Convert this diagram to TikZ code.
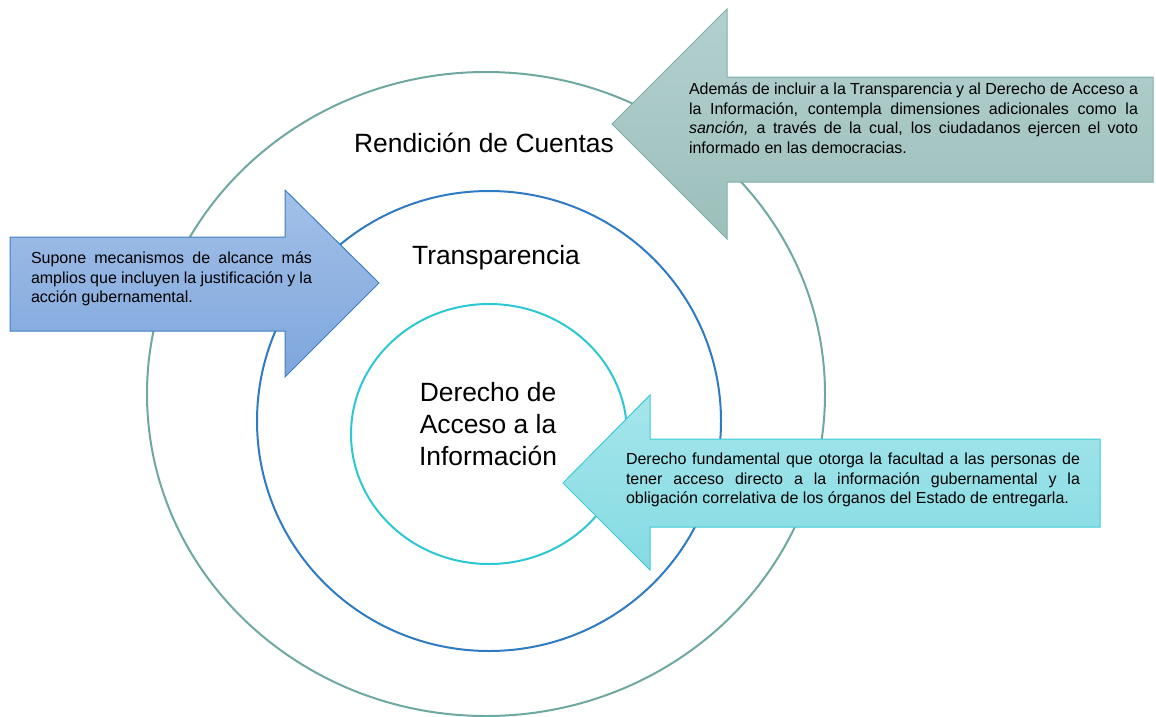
\documentclass[tikz,border=0pt]{standalone}
\usepackage{fontspec}
\setmainfont{Liberation Sans}
\hyphenpenalty=10000
\exhyphenpenalty=10000
\definecolor{outerc}{HTML}{6FA8A0}
\definecolor{midc}{HTML}{2E7BC4}
\definecolor{innerc}{HTML}{2BC8D3}
\definecolor{taTop}{HTML}{B3D0D0}
\definecolor{taBot}{HTML}{9CBFBA}
\definecolor{taBorder}{HTML}{7FAFA8}
\definecolor{laTop}{HTML}{A3C0E8}
\definecolor{laBot}{HTML}{7EA6DC}
\definecolor{laBorder}{HTML}{3E7FC4}
\definecolor{baTop}{HTML}{A5E5EB}
\definecolor{baBot}{HTML}{85DBE3}
\definecolor{baBorder}{HTML}{3CCBD6}
\begin{document}
\begin{tikzpicture}[x=1pt,y=-1pt,
  ring/.style={line width=2pt},
  arrowshape/.style={line width=1pt},
  smalltext/.style={font=\fontsize{16}{19.5}\selectfont, align=justify, inner sep=0pt},
  bigtext/.style={font=\fontsize{26.4}{32}\selectfont, align=center, inner sep=0pt}]
\useasboundingbox (0,0) rectangle (1156,717);
% rings
\draw[ring, draw=outerc] (486,394) ellipse [x radius=339pt, y radius=322pt];
\draw[ring, draw=midc] (489,421) ellipse [x radius=232pt, y radius=230pt];
\draw[ring, draw=innerc] (489,434) ellipse [x radius=138pt, y radius=130pt];
% ring labels
\node[bigtext] (rc) at (484,143) {Rendición de Cuentas};
\node[bigtext] (tr) at (496,258) {Transparencia};
\node[bigtext] (dai) at (488,424) {Derecho de\\Acceso a la\\Información};
% top-right arrow
\draw[arrowshape, draw=taBorder, top color=taTop, bottom color=taBot]
  (1153,77) -- (727,77) -- (727,9) -- (612,124) -- (727,239) -- (727,182) -- (1153,182) -- cycle;
\node[smalltext, text width=449pt] (ta) at (913.5,118) {Además de incluir a la Transparencia y al Derecho de Acceso a\linebreak la Información, contempla dimensiones adicionales como la\linebreak \textit{sanción,} a través de la cual, los ciudadanos ejercen el voto\linebreak informado en las democracias.};
% left arrow
\draw[arrowshape, draw=laBorder, top color=laTop, bottom color=laBot]
  (10,237) -- (285,237) -- (285,190) -- (379,283) -- (285,377) -- (285,331) -- (10,331) -- cycle;
\node[smalltext, text width=281pt] (la) at (171.5,279) {Supone mecanismos de alcance más\linebreak amplios que incluyen la justificación y la\linebreak acción gubernamental.};
% bottom-right arrow
\draw[arrowshape, draw=baBorder, top color=baTop, bottom color=baBot]
  (1100,439) -- (650,439) -- (650,395) -- (563,483) -- (650,570) -- (650,527) -- (1100,527) -- cycle;
\node[smalltext, text width=454pt] (ba) at (853,480) {Derecho fundamental que otorga la facultad a las personas de\linebreak tener acceso directo a la información gubernamental y la\linebreak obligación correlativa de los órganos del Estado de entregarla.};
\end{tikzpicture}
\end{document}
